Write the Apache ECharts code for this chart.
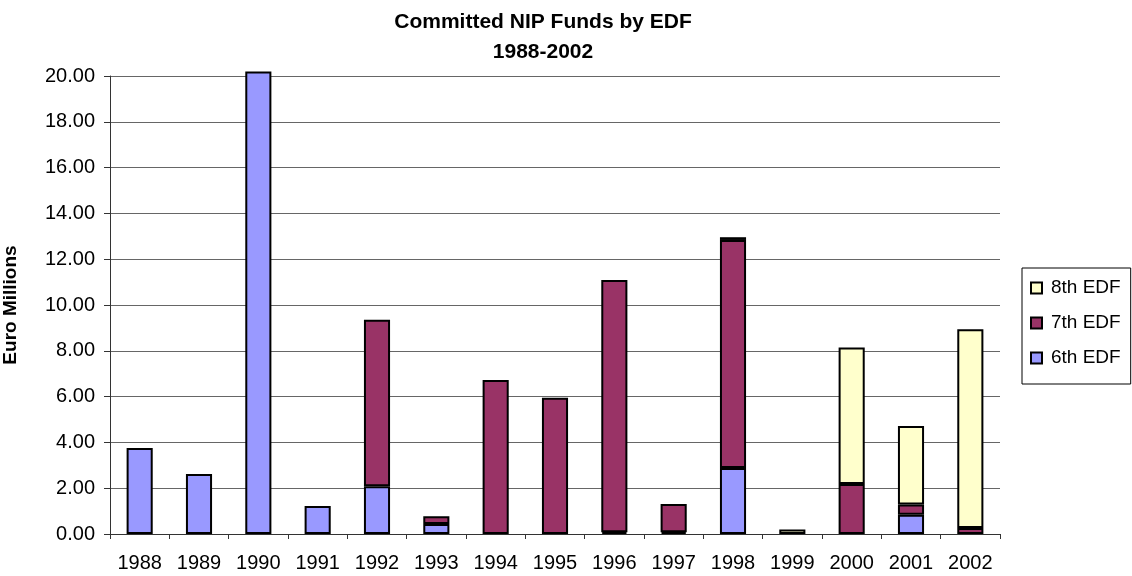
<!DOCTYPE html>
<html>
<head>
<meta charset="utf-8">
<script src="https://cdn.jsdelivr.net/npm/echarts@6/dist/echarts.min.js"></script>
<style>html,body{margin:0;padding:0;background:#fff}#c{width:1132px;height:576px}</style>
</head>
<body>
<div id="c"></div>
<script>
var years = ['1988','1989','1990','1991','1992','1993','1994','1995','1996','1997','1998','1999','2000','2001','2002'];
var edf6 = [3.76, 2.62, 20.2, 1.22, 2.09, 0.44, null, null, 0.08, 0.08, 2.88, null, null, 0.84, null];
var edf7 = [null, null, null, null, 7.27, 0.34, 6.72, 5.95, 11.01, 1.23, 9.96, null, 2.18, 0.45, 0.26];
var edf8 = [null, null, null, null, null, null, null, null, null, null, 0.12, 0.2, 5.96, 3.43, 8.68];
var yTicks = {min: 0, max: 20, interval: 2};

var font = 'Liberation Sans, Arial, sans-serif';
function bar(name, data, color) {
  return {
    name: name, type: 'bar', stack: 'edf', data: data, barWidth: '44%', clip: false,
    itemStyle: {color: color, borderColor: '#000', borderWidth: 2},
    emphasis: {disabled: true}
  };
}
var chart = echarts.init(document.getElementById('c'), null, {renderer: 'canvas'});
chart.setOption({
  animation: false,
  backgroundColor: '#fff',
  title: {
    text: 'Committed NIP Funds by EDF\n1988-2002',
    left: 538, top: 2, textAlign: 'center',
    textStyle: {fontFamily: font, fontWeight: 'bold', fontSize: 21, lineHeight: 30, color: '#000'}
  },
  legend: {
    data: ['8th EDF', '7th EDF', '6th EDF'],
    orient: 'vertical', left: 1022, top: 268,
    backgroundColor: '#fff', borderColor: '#000', borderWidth: 1,
    padding: [10, 10, 16, 8], itemGap: 15, itemWidth: 11, itemHeight: 11, icon: 'rect',
    textStyle: {fontFamily: font, fontSize: 19, lineHeight: 20, color: '#000', padding: [0, 0, 0, 4]}
  },
  grid: {left: 110, right: 132, top: 76, bottom: 42, containLabel: false, outerBoundsMode: 'none'},
  xAxis: {
    type: 'category', data: years,
    axisLine: {lineStyle: {color: '#333', width: 1}},
    axisTick: {show: true, length: 5, lineStyle: {color: '#333'}},
    axisLabel: {fontFamily: font, fontSize: 20, color: '#000', margin: 19}
  },
  yAxis: {
    type: 'value', min: yTicks.min, max: yTicks.max, interval: yTicks.interval,
    name: 'Euro Millions', nameLocation: 'middle', nameGap: 90, nameRotate: 90,
    nameTextStyle: {fontFamily: font, fontWeight: 'bold', fontSize: 19, color: '#000'},
    axisLine: {show: true, lineStyle: {color: '#333', width: 1}},
    axisTick: {show: true, length: 6, lineStyle: {color: '#333'}},
    axisLabel: {fontFamily: font, fontSize: 20, color: '#000', margin: 15,
      formatter: function (v) { return v.toFixed(2); }},
    splitLine: {show: true, lineStyle: {color: '#666', width: 1}}
  },
  series: [
    bar('6th EDF', edf6, '#9999FF'),
    bar('7th EDF', edf7, '#993366'),
    bar('8th EDF', edf8, '#FFFFCC')
  ]
});
</script>
</body>
</html>
